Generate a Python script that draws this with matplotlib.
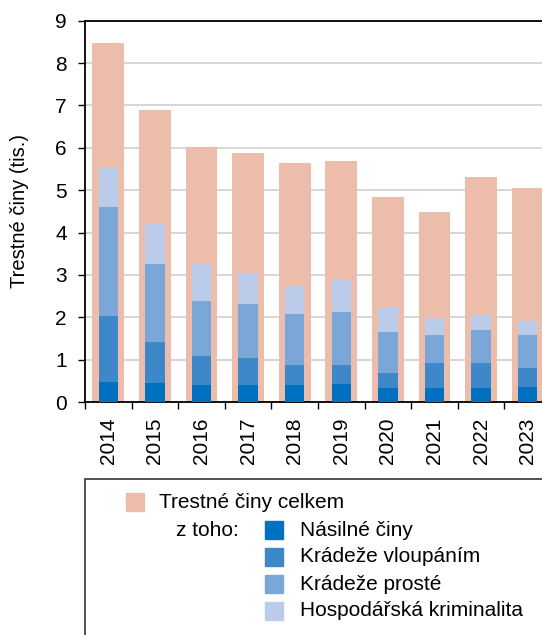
import numpy as np
import matplotlib.pyplot as plt
from matplotlib.patches import Rectangle

plt.rcParams['font.family'] = ['Liberation Sans', 'DejaVu Sans']

years = ['2014', '2015', '2016', '2017', '2018', '2019', '2020', '2021', '2022', '2023']
celkem = [8.47, 6.89, 6.01, 5.88, 5.63, 5.70, 4.85, 4.49, 5.30, 5.06]
nasilne = [0.48, 0.46, 0.39, 0.40, 0.40, 0.43, 0.34, 0.34, 0.34, 0.36]
vloupani = [1.56, 0.96, 0.69, 0.65, 0.48, 0.44, 0.35, 0.59, 0.59, 0.44]
proste = [2.56, 1.84, 1.30, 1.26, 1.20, 1.25, 0.96, 0.66, 0.78, 0.77]
hospodarska = [0.95, 0.97, 0.88, 0.73, 0.66, 0.77, 0.58, 0.39, 0.35, 0.34]

c_total = '#ECBDAA'
c_parts = ['#0070C0', '#3E87C8', '#7BA6D8', '#BACCEA']
labels_parts = ['Násilné činy', 'Krádeže vloupáním', 'Krádeže prosté', 'Hospodářská kriminalita']

fig = plt.figure(figsize=(5.42, 6.35), dpi=100)
W, H = 542, 635
ax = fig.add_axes([85 / W, 233 / H, 466 / W, 381.3 / H])

x = np.arange(len(years))
ax.bar(x, celkem, width=0.68, color=c_total, zorder=2)
bottom = np.zeros(len(years))
for vals, col in zip([nasilne, vloupani, proste, hospodarska], c_parts):
    ax.bar(x, vals, width=0.42, bottom=bottom, color=col, zorder=3)
    bottom += np.array(vals)

ax.set_xlim(-0.5, len(years) - 0.5)
ax.set_ylim(0, 9)
ax.set_yticks(range(10))
ax.yaxis.grid(True, color='#D0D0D0', linewidth=1.2, zorder=0)
ax.set_axisbelow(True)
ax.set_xticks(x)
ax.set_xticklabels(years, rotation=90, fontsize=15)
ax.tick_params(axis='x', which='major', length=0, pad=11)
ax.set_xticks(np.arange(-0.5, len(years), 1), minor=True)
ax.tick_params(axis='x', which='minor', length=5, width=1)
ax.tick_params(axis='y', labelsize=15, length=5, width=1, pad=8)
for s in ['left', 'bottom', 'top']:
    ax.spines[s].set_linewidth(1.3)
ax.spines['right'].set_visible(False)
ax.set_ylabel('Trestné činy (tis.)', fontsize=14.5, labelpad=19)

# legend box
fig.patches.append(Rectangle((85 / W, -0.05), 0.9, (H - 479) / H + 0.05,
                             transform=fig.transFigure, facecolor='white',
                             edgecolor='#333333', linewidth=1.2))
fig.patches.append(Rectangle((126 / W, (H - 511) / H), 18 / W, 18 / H,
                             transform=fig.transFigure, color=c_total))
fig.text(159 / W, (H - 502) / H, 'Trestné činy celkem', fontsize=15, va='center')
fig.text(176 / W, (H - 530) / H, 'z toho:', fontsize=15, va='center')
rows = [530, 557, 584, 611]
for yy, col, lab in zip(rows, c_parts, labels_parts):
    fig.patches.append(Rectangle((265 / W, (H - yy - 9) / H), 18 / W, 18 / H,
                                 transform=fig.transFigure, color=col))
    fig.text(300 / W, (H - yy) / H, lab, fontsize=15, va='center')

fig.savefig('out.png', dpi=100)
